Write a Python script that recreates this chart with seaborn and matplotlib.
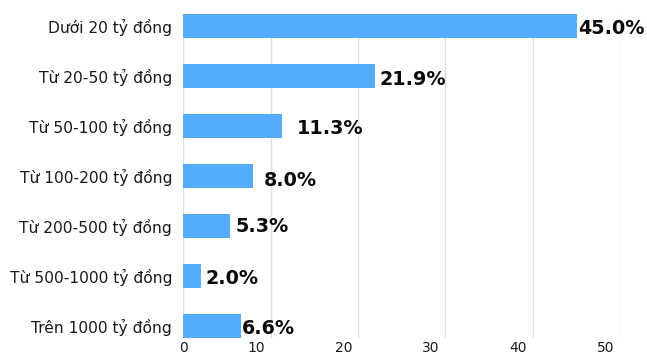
import matplotlib
matplotlib.use("Agg")
import matplotlib.pyplot as plt
import matplotlib.transforms as mtransforms
import pandas as pd
import seaborn as sns

# Revenue brackets and the share of companies in each (%)
categories = [
    "Dưới 20 tỷ đồng",
    "Từ 20-50 tỷ đồng",
    "Từ 50-100 tỷ đồng",
    "Từ 100-200 tỷ đồng",
    "Từ 200-500 tỷ đồng",
    "Từ 500-1000 tỷ đồng",
    "Trên 1000 tỷ đồng",
]
shares = [45.0, 21.9, 11.3, 8.0, 5.3, 2.0, 6.6]
x_ticks = [0, 10, 20, 30, 40, 50]

# Per-label nudges for the value annotations (pixels: right, down)
label_dx = [2, 5, 15, 11, 6, 5, 1]
label_dy = [3, 4, 3, 5, 1, 2, 3]

BAR_COLOR = "#55acfe"
GRID_COLOR = "#e0e0e0"

sns.set_style("white")
plt.rcParams["font.family"] = ["DejaVu Sans"]

df = pd.DataFrame({"category": categories, "share": shares})

fig = plt.figure(figsize=(6.47, 3.58), dpi=100)
ax = fig.add_axes([183.3 / 647, 1 - 338 / 358, (620.3 - 183.3) / 647, (338 - 14) / 358])

sns.barplot(
    data=df, x="share", y="category", orient="h",
    color=BAR_COLOR, saturation=1, width=0.48, linewidth=0,
    edgecolor="none", ax=ax, zorder=2,
)

ax.set_xlim(0, 50)
ax.set_ylim(len(categories) - 1 + 0.24, -0.24)
ax.set_xticks(x_ticks)
ax.set_xticklabels([str(t) for t in x_ticks])
ax.set_xlabel("")
ax.set_ylabel("")

ax.set_axisbelow(True)
ax.xaxis.grid(True, color=GRID_COLOR, linewidth=1)
ax.yaxis.grid(False)
for s in ax.spines.values():
    s.set_visible(False)

ax.tick_params(axis="both", length=0)
ax.tick_params(axis="y", pad=8, labelsize=11.2, labelcolor="#1a1a1a")
ax.tick_params(axis="x", pad=2.5, labelsize=10, labelcolor="#1a1a1a")

# Tick numbers sit just left of their gridlines (except zero)
for i, lbl in enumerate(ax.get_xticklabels()):
    if i == 0:
        continue
    lbl.set_horizontalalignment("right")
    lbl.set_transform(lbl.get_transform() + mtransforms.ScaledTranslation(-6 / 100, 0, fig.dpi_scale_trans))

# Value labels at the end of each bar
for i, v in enumerate(shares):
    ax.annotate(
        f"{v:.1f}%", xy=(v, i), xytext=(label_dx[i], -label_dy[i]),
        textcoords="offset pixels", ha="left", va="center",
        fontsize=13.8, fontweight="bold", color="#0a0a0a",
        annotation_clip=False, clip_on=False,
    )

fig.savefig("out.png", dpi=100)
